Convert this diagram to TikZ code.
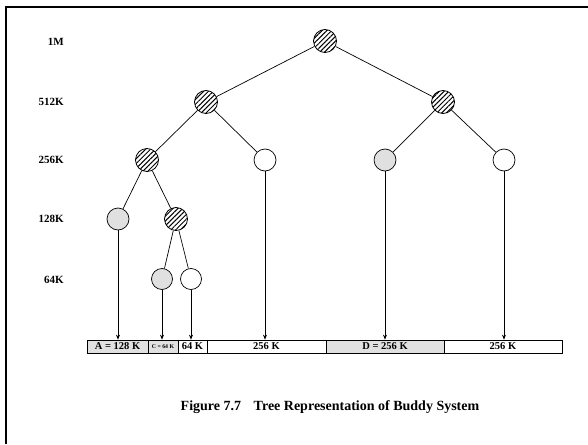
\documentclass[tikz,border=0pt]{standalone}
\usepackage{fontspec}
\setmainfont{Liberation Serif}
\usetikzlibrary{patterns.meta,arrows.meta}
\definecolor{cellgray}{gray}{0.88}
\tikzset{
  hatched/.style={circle,draw,line width=0.8pt,minimum size=23pt,inner sep=0pt,
    pattern={Lines[angle=45,distance=3.4pt,line width=1pt]}},
  grayn/.style={circle,draw,line width=0.7pt,minimum size=22pt,inner sep=0pt,fill=cellgray},
  whiten/.style={circle,draw,line width=0.7pt,minimum size=22pt,inner sep=0pt,fill=white},
  small/.style={minimum size=21pt},
  lvl/.style={anchor=east,font=\fontsize{11}{13}\selectfont\bfseries,inner sep=0pt},
  cell/.style={draw,line width=0.7pt,minimum height=13pt,inner sep=0pt,font=\fontsize{10.5}{12}\selectfont\bfseries},
  edge/.style={line width=0.7pt},
  arr/.style={line width=0.7pt,-{Stealth[length=5pt,width=4pt]}}
}
\begin{document}
\begin{tikzpicture}[x=1pt,y=-1pt]
\useasboundingbox (0,0) rectangle (588,444);
\draw[line width=2pt] (5.5,444) -- (5.5,7) -- (588,7);
% level labels
\node[lvl] (l1) at (64,42) {1M};
\node[lvl] (l2) at (64,102) {512K};
\node[lvl] (l3) at (64,160) {256K};
\node[lvl] (l4) at (64,219) {128K};
\node[lvl] (l5) at (64,280) {64K};
% tree
\node[hatched] (r) at (325,41) {};
\node[hatched] (a) at (206,102) {};
\node[hatched] (b) at (443,102) {};
\node[hatched] (aa) at (147,160) {};
\node[whiten] (ab) at (265,160) {};
\node[grayn] (ba) at (385,160) {};
\node[whiten] (bb) at (504,160) {};
\node[grayn] (aaa) at (118,219) {};
\node[hatched] (aab) at (176,219) {};
\node[grayn,small] (aaba) at (162,279) {};
\node[whiten,small] (aabb) at (191,279) {};
\draw[edge] (r) -- (a);
\draw[edge] (r) -- (b);
\draw[edge] (a) -- (aa);
\draw[edge] (a) -- (ab);
\draw[edge] (b) -- (ba);
\draw[edge] (b) -- (bb);
\draw[edge] (aa) -- (aaa);
\draw[edge] (aa) -- (aab);
\draw[edge] (aab) -- (aaba);
\draw[edge] (aab) -- (aabb);
% bar
\node[cell,fill=cellgray,minimum width=61pt] (c1) at (117.5,346.5) {A = 128 K};
\node[cell,fill=cellgray,minimum width=30pt,font=\fontsize{5.8}{6}\selectfont\bfseries] (c2) at (163,346.5) {C = 64 K};
\node[cell,minimum width=29pt] (c3) at (192.5,346.5) {64 K};
\node[cell,minimum width=119pt] (c4) at (266.5,346.5) {256 K};
\node[cell,fill=cellgray,minimum width=118pt] (c5) at (385,346.5) {D = 256 K};
\node[cell,minimum width=118pt] (c6) at (503,346.5) {256 K};
\draw[arr] (aaa) -- (aaa |- c1.north);
\draw[arr] (aaba) -- (aaba |- c2.north);
\draw[arr] (aabb) -- (aabb |- c3.north);
\draw[arr] (ab) -- (ab |- c4.north);
\draw[arr] (ba) -- (ba |- c5.north);
\draw[arr] (bb) -- (bb |- c6.north);
% caption
\node[font=\fontsize{14}{16}\selectfont\bfseries] (cap) at (330,407) {Figure 7.7\hspace{0.9em}Tree Representation of Buddy System};
\end{tikzpicture}
\end{document}
